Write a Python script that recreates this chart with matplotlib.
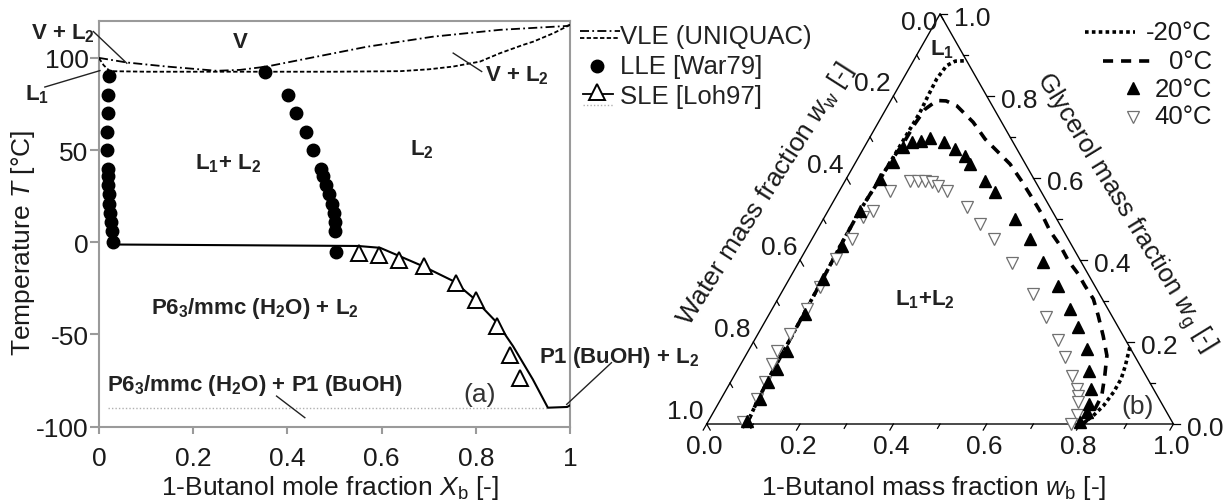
import numpy as np
import matplotlib
matplotlib.use("Agg")
import matplotlib.pyplot as plt

plt.rcParams['font.family'] = ['Liberation Sans', 'DejaVu Sans']
plt.rcParams['mathtext.fontset'] = 'custom'
plt.rcParams['mathtext.rm'] = 'Liberation Sans'
plt.rcParams['mathtext.it'] = 'Liberation Sans:italic'
plt.rcParams['mathtext.bf'] = 'Liberation Sans:bold'
plt.rcParams['axes.unicode_minus'] = False

# ---------------- (a) water / 1-butanol, T-x ----------------
# LLE [War79], water-rich branch
lle_w_x = [0.030, 0.027, 0.025, 0.023, 0.022, 0.021, 0.020, 0.019, 0.019, 0.018, 0.018, 0.019, 0.020, 0.022]
lle_w_T = [0, 6, 11, 16, 21, 26, 31, 36, 40, 50, 60, 70, 80, 90]
# LLE [War79], butanol-rich branch
lle_b_x = [0.503, 0.501, 0.500, 0.498, 0.494, 0.489, 0.483, 0.476, 0.471, 0.455, 0.440, 0.418, 0.402, 0.352]
lle_b_T = [-5, 6, 11, 16, 21, 26, 31, 36, 40, 50, 60, 70, 80, 92.6]
# SLE [Loh97]
sle_x = [0.553, 0.594, 0.638, 0.690, 0.758, 0.800, 0.846, 0.873, 0.894]
sle_T = [-6, -7, -9.5, -13, -22, -31.5, -45.5, -61, -73.5]
# solid phase boundary (liquidus + eutectic)
liq_x = [0.03, 0.30, 0.55, 0.597, 0.639, 0.688, 0.752, 0.794, 0.845, 0.879, 0.921, 0.953, 0.994, 1.0]
liq_T = [-1.2, -1.6, -2.0, -3.0, -7.6, -13, -21, -30, -43.6, -56.3, -74.3, -89.7, -89.3, -88.4]
# eutectic (solid-solid) line
eut_x = [0.02, 0.953]
eut_T = [-90, -90]
# VLE (UNIQUAC) bubble line
bub_x = [0, 0.01, 0.023, 0.10, 0.30, 0.50, 0.64, 0.70, 0.752, 0.809, 0.851, 0.90, 0.922, 0.965, 1.0]
bub_T = [99.8, 96.0, 92.8, 92.5, 92.5, 92.5, 92.8, 93.8, 95.3, 98.0, 102.5, 107.0, 108.8, 113.4, 117.9]
# VLE (UNIQUAC) dew line
dew_x = [0, 0.059, 0.144, 0.25, 0.30, 0.356, 0.427, 0.568, 0.709, 0.851, 0.993, 1.0]
dew_T = [100, 97.5, 95.3, 93.0, 93.5, 95.3, 98.9, 106.0, 111.5, 115.2, 117.3, 117.9]

# ---------------- (b) water / glycerol / 1-butanol, mass fractions ----------------
# -20 C binodal (two branches), butanol w_b and glycerol w_g
m20a_wb = [0.086, 0.080, 0.077, 0.076, 0.074, 0.072, 0.069, 0.068, 0.070, 0.073, 0.074,
           0.075, 0.076, 0.077, 0.074, 0.072, 0.077, 0.090, 0.114]
m20a_wg = [0.0, 0.06, 0.13, 0.18, 0.26, 0.35, 0.435, 0.52, 0.56, 0.60, 0.64,
           0.679, 0.720, 0.760, 0.801, 0.842, 0.874, 0.885, 0.886]
m20b_wb = [0.813, 0.826, 0.833, 0.833, 0.828, 0.818, 0.808, 0.805]
m20b_wg = [0.187, 0.142, 0.110, 0.078, 0.045, 0.020, 0.005, 0.0]
# 0 C binodal
p0_wb = [0.086, 0.080, 0.077, 0.076, 0.074, 0.072, 0.069, 0.068, 0.070, 0.073, 0.074,
         0.079, 0.080, 0.084, 0.099, 0.119, 0.148, 0.203, 0.249, 0.333, 0.378, 0.420,
         0.462, 0.500, 0.540, 0.576, 0.613, 0.642, 0.676, 0.707, 0.742, 0.774, 0.794,
         0.812, 0.814, 0.810, 0.806]
p0_wg = [0.0, 0.06, 0.13, 0.18, 0.26, 0.35, 0.435, 0.52, 0.56, 0.60, 0.64,
         0.683, 0.732, 0.768, 0.789, 0.788, 0.776, 0.736, 0.695, 0.634, 0.593, 0.553,
         0.512, 0.471, 0.435, 0.398, 0.366, 0.337, 0.305, 0.264, 0.215, 0.167, 0.118,
         0.069, 0.029, 0.008, 0.0]
# 20 C
p20_wb = [0.082, 0.084, 0.081, 0.083, 0.082, 0.077, 0.073, 0.072, 0.068, 0.072, 0.081,
          0.084, 0.096, 0.113, 0.130, 0.163, 0.197, 0.227, 0.247, 0.300, 0.335, 0.411,
          0.467, 0.524, 0.585, 0.638, 0.678, 0.723, 0.755, 0.780, 0.795, 0.800, 0.798]
p20_wg = [0.008, 0.061, 0.102, 0.134, 0.179, 0.268, 0.354, 0.435, 0.520, 0.598, 0.638,
          0.675, 0.687, 0.691, 0.697, 0.689, 0.671, 0.654, 0.634, 0.593, 0.565, 0.500,
          0.451, 0.394, 0.337, 0.280, 0.236, 0.183, 0.130, 0.085, 0.049, 0.029, 0.004]
# 40 C
p40_wb = [0.076, 0.077, 0.074, 0.066, 0.061, 0.069, 0.074, 0.076, 0.077, 0.085, 0.083,
          0.097, 0.108, 0.139, 0.157, 0.171, 0.187, 0.206, 0.230, 0.293, 0.342, 0.390,
          0.457, 0.541, 0.598, 0.651, 0.686, 0.725, 0.752, 0.761, 0.769, 0.783, 0.780]
p40_wg = [0.004, 0.061, 0.102, 0.146, 0.179, 0.220, 0.280, 0.333, 0.402, 0.451, 0.504,
          0.520, 0.569, 0.593, 0.593, 0.593, 0.590, 0.581, 0.569, 0.529, 0.488, 0.451,
          0.393, 0.317, 0.260, 0.205, 0.163, 0.116, 0.085, 0.069, 0.053, 0.022, 0.0]

tern_ticks = [round(0.1 * i, 1) for i in range(11)]

TXT = '#1a1a1a'
LAB = '#222222'
GRAY = '#9a9a9a'

fig = plt.figure(figsize=(12.24, 5.02), dpi=100)

# ================= panel (a) =================
ax = fig.add_axes([99 / 1224, 74.3 / 502, 471 / 1224, 405.7 / 502])
ax.set_xlim(0, 1)
ax.set_ylim(-100, 120)
for s in ax.spines.values():
    s.set_color(GRAY)
    s.set_linewidth(1.5)
ax.set_xticks([0, 0.2, 0.4, 0.6, 0.8, 1.0])
ax.set_xticklabels(['0', '0.2', '0.4', '0.6', '0.8', '1'])
ax.set_yticks([-100, -50, 0, 50, 100])
ax.tick_params(axis='both', colors=GRAY, labelcolor=TXT, labelsize=19, width=1.5)
ax.tick_params(axis='x', length=5, pad=9)
ax.tick_params(axis='y', length=6.5, pad=1)

ax.plot(eut_x, eut_T, color='#b0b0b0', lw=1.0, ls=(0, (1, 1.5)), zorder=2)
ax.plot(bub_x, bub_T, color='k', lw=1.3, ls=(0, (2.4, 1.3)), zorder=3)
ax.plot(dew_x, dew_T, color='k', lw=1.3, ls=(0, (5, 1.8, 1, 1.8)), zorder=3)
ax.plot(liq_x, liq_T, color='k', lw=1.5, zorder=3)
ax.plot(lle_w_x, lle_w_T, 'o', color='k', ms=9, zorder=5, clip_on=False)
ax.plot(lle_b_x, lle_b_T, 'o', color='k', ms=9, zorder=5, clip_on=False)
ax.plot(sle_x, sle_T, '^', mfc='white', mec='k', mew=1.4, ms=12, zorder=5)

ax.set_xlabel(r'1-Butanol mole fraction $X_\mathrm{b}$ [-]', fontsize=19, color=TXT)
ax.set_ylabel(r'Temperature $T$ [°C]', fontsize=19, color=TXT)
ax.xaxis.set_label_coords(0.49, -0.113)
ax.yaxis.set_label_coords(-0.131, 0.4565)

bold = dict(fontsize=16, fontweight='bold', color=LAB, ha='center', va='center',
            clip_on=False)
ax.text(0.299, 108.8, 'V', **bold)
ax.text(0.274, 43, r'$\mathbf{L_1}$+ $\mathbf{L_2}$', **bold)
ax.text(0.685, 51, r'$\mathbf{L_2}$', **bold)
ax.text(0.331, -35.4, r'P6$\mathbf{_3}$/mmc (H$\mathbf{_2}$O) + L$\mathbf{_2}$', **bold)
ax.text(0.331, -77, r'P6$\mathbf{_3}$/mmc (H$\mathbf{_2}$O) + P1 (BuOH)', **bold)
ax.text(-0.0764, 113.8, r'V + L$\mathbf{_2}$', **bold)
ax.text(-0.132, 80.5, r'L$\mathbf{_1}$', **bold)
ax.text(0.8885, 90.8, r'V + L$\mathbf{_2}$', **bold)
ax.text(0.935, -61.7, r'P1 (BuOH) + L$\mathbf{_2}$', **dict(bold, ha='left'))
ax.text(0.809, -82.5, '(a)', fontsize=19, color='#333333', ha='center', va='center')

# leader lines
leaders = [((-0.012, 114.3), (0.059, 97.1)),
           ((-0.115, 84.2), (0.002, 93.1)),
           ((0.752, 102.6), (0.8125, 92.6)),
           ((0.377, -83.4), (0.437, -95.1)),
           ((1.088, -65.3), (0.993, -87.9))]
for (x0, y0), (x1, y1) in leaders:
    ax.plot([x0, x1], [y0, y1], color=LAB, lw=1.0, clip_on=False, zorder=4)

# ================= panel (b) =================
SX, SY = 466.7, 410.0
tx = fig.add_axes([706.7 / 1224, 77 / 502, SX / 1224, SY / 502])
tx.set_xlim(0, 1)
tx.set_ylim(0, 1)
tx.axis('off')


def tern(wb, wg):
    wb = np.asarray(wb, dtype=float)
    wg = np.asarray(wg, dtype=float)
    return wb + wg / 2, wg


tx.plot([0, 1, 0.5, 0], [0, 0, 1, 0], color='k', lw=1.0, clip_on=False, zorder=2)
for i, v in enumerate(tern_ticks):
    L = 7 if i % 2 == 0 else 5
    # bottom (butanol)
    tx.plot([v, v - 0.5 * L / SX], [0, -0.866 * L / SY], color='k', lw=0.9, clip_on=False)
    # right (glycerol)
    xr, yr = 1 - v / 2, v
    tx.plot([xr, xr + L / SX], [yr, yr], color='k', lw=0.9, clip_on=False)
    # left (water)
    xl, yl = (1 - v) / 2, 1 - v
    tx.plot([xl, xl + 0.5 * L / SX], [yl, yl - 0.866 * L / SY], color='k', lw=0.9, clip_on=False)
    if i % 2 == 0:
        lab = f'{v:.1f}'
        tx.annotate(lab, xy=(v, 0), xytext=(-2, -22), textcoords='offset pixels',
                    ha='center', va='center', fontsize=19, color=TXT)
        tx.annotate(lab, xy=(xr, yr), xytext=(14, -4), textcoords='offset pixels',
                    ha='left', va='center', fontsize=19, color=TXT)
        off = (-3, -8) if v == 0 else (-3, 13)
        tx.annotate(lab, xy=(xl, yl), xytext=off, textcoords='offset pixels',
                    ha='right', va='center', fontsize=19, color=TXT)

x, y = tern(m20a_wb, m20a_wg)
tx.plot(x, y, color='k', lw=2.6, ls=(0, (1, 0.9)), clip_on=False, zorder=3)
x, y = tern(m20b_wb, m20b_wg)
tx.plot(x, y, color='k', lw=2.6, ls=(0, (1, 0.9)), clip_on=False, zorder=3)
x, y = tern(p0_wb, p0_wg)
tx.plot(x, y, color='k', lw=2.6, ls=(0, (2.8, 2.2)), clip_on=False, zorder=3)
x, y = tern(p40_wb, p40_wg)
tx.plot(x, y, 'v', mfc='white', mec='#707070', mew=0.9, ms=8, clip_on=False, zorder=4)
x, y = tern(p20_wb, p20_wg)
tx.plot(x, y, '^', color='k', ms=8, clip_on=False, zorder=5)

# ================= overlay in pixel coordinates =================
ov = fig.add_axes([0, 0, 1, 1])
ov.set_xlim(0, 1224)
ov.set_ylim(502, 0)
ov.axis('off')
ov.patch.set_alpha(0)

# legend (a)
ov.plot([580, 620], [31.7, 31.7], color='k', lw=1.3, ls=(0, (5, 1.8, 1, 1.8)))
ov.plot([580, 620], [39.3, 39.3], color='k', lw=1.3, ls=(0, (2.4, 1.3)))
ov.plot([597], [67], 'o', color='k', ms=9)
ov.plot([583, 613], [95, 95], color='k', lw=1.3)
ov.plot([597], [92.5], '^', mfc='white', mec='k', mew=1.4, ms=12)
ov.plot([583, 613], [106, 106], color='#b0b0b0', lw=1.0, ls=(0, (1, 1.5)))
for yy, t in [(37, 'VLE (UNIQUAC)'), (67, 'LLE [War79]'), (97, 'SLE [Loh97]')]:
    ov.text(620, yy, t, fontsize=18.5, color=LAB, ha='left', va='center')

# legend (b)
ov.plot([1085, 1135], [33.3, 33.3], color='k', lw=2.6, ls=(0, (1, 0.9)))
ov.plot([1103, 1150], [61.7, 61.7], color='k', lw=2.6, ls=(0, (2.8, 2.2)))
ov.plot([1133], [89], '^', color='k', ms=8)
ov.plot([1133], [118], 'v', mfc='white', mec='#707070', mew=0.9, ms=8)
for yy, t in [(33.3, '-20°C'), (62, '0°C'), (90, '20°C'), (117, '40°C')]:
    ov.text(1212, yy, t, fontsize=18.5, color=TXT, ha='right', va='center')

# ternary axis titles
ov.text(934, 488, r'1-Butanol mass fraction $w_\mathrm{b}$ [-]', fontsize=19, color=TXT,
        ha='center', va='center')
ov.text(765, 195, r'Water mass fraction $w_\mathrm{w}$ [-]', fontsize=19, color=TXT,
        ha='center', va='center', rotation=57.5, rotation_mode='anchor')
ov.text(1124, 213, r'Glycerol mass fraction $w_\mathrm{g}$ [-]', fontsize=18.5, color=TXT,
        ha='center', va='center', rotation=-58.5, rotation_mode='anchor')
ov.text(941.7, 50, r'L$\mathbf{_1}$', fontsize=16, fontweight='bold', color=LAB,
        ha='center', va='center')
ov.text(925, 300, r'L$\mathbf{_1}$+L$\mathbf{_2}$', fontsize=16, fontweight='bold',
        color=LAB, ha='center', va='center')
ov.text(1138, 407, '(b)', fontsize=19, color='#333333', ha='center', va='center')

fig.savefig('out.png', dpi=100)
